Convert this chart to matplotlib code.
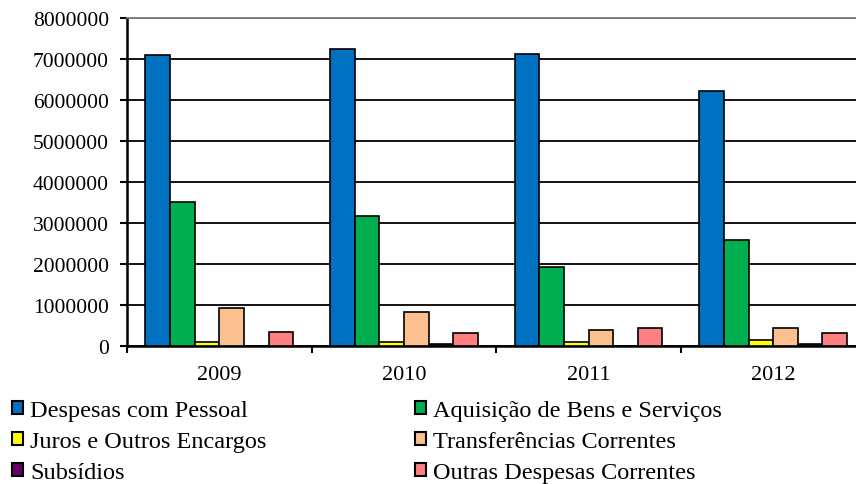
import matplotlib
matplotlib.use("Agg")
import matplotlib.pyplot as plt
import numpy as np
from matplotlib.patches import Patch

years = ["2009", "2010", "2011", "2012"]
series_names = ["Despesas com Pessoal", "Aquisição de Bens e Serviços",
                "Juros e Outros Encargos", "Transferências Correntes",
                "Subsídios", "Outras Despesas Correntes"]
despesas_pessoal = [7100000, 7250000, 7110000, 6220000]
aquisicao_bens = [3510000, 3170000, 1920000, 2580000]
juros_encargos = [90000, 90000, 90000, 140000]
transferencias = [920000, 820000, 385000, 430000]
subsidios = [0, 30000, 0, 30000]
outras_despesas = [340000, 300000, 430000, 300000]
yticks = [0, 1000000, 2000000, 3000000, 4000000, 5000000, 6000000, 7000000, 8000000]

colors = ["#0070C0", "#00B050", "#FFFF00", "#FAC090", "#660066", "#FF8080"]
data = [despesas_pessoal, aquisicao_bens, juros_encargos, transferencias, subsidios, outras_despesas]

plt.rcParams['font.family'] = ['Liberation Serif', 'DejaVu Serif']

fig = plt.figure(figsize=(8.56, 4.85), dpi=100)
ax = fig.add_axes([127/856, (485-346.5)/485, 738.5/856, 327.5/485])

n = len(data)
bw = 0.8 / n
x = np.arange(len(years))
for i, (vals, c) in enumerate(zip(data, colors)):
    ax.bar(x - 0.4 + bw*(i+0.5), vals, width=bw, color=c, edgecolor="black",
           linewidth=1.2, zorder=3)

ax.set_xlim(-0.5, len(years) - 0.5)
ax.set_ylim(0, 8000000)
ax.set_yticks(yticks)
ax.set_yticklabels([str(v) for v in yticks], fontsize=15.5)
ax.yaxis.grid(True, color="black", linewidth=1.3, zorder=0)
ax.set_axisbelow(True)

ax.set_xticks(np.arange(len(years) + 1) - 0.5, minor=False)
ax.set_xticklabels([])
ax.set_xticks(x, minor=True)
ax.set_xticklabels(years, minor=True, fontsize=16)
ax.tick_params(axis='x', which='minor', length=0, pad=14)
ax.tick_params(axis='x', which='major', length=5, width=1.5, direction='out')
ax.tick_params(axis='y', length=5, width=1.5, direction='out', pad=8)

for s in ["left", "bottom"]:
    ax.spines[s].set_linewidth(1.8)
    ax.spines[s].set_color("black")
ax.spines["right"].set_visible(False)
ax.spines["top"].set_color("#808080")
ax.spines["top"].set_linewidth(1.3)

handles = [Patch(facecolor=c, edgecolor="black", linewidth=1.5) for c in colors]
order = [0, 2, 4, 1, 3, 5]
fig.legend([handles[i] for i in order], [series_names[i] for i in order],
           loc="upper left", bbox_to_anchor=(0.008, 1 - 396/485), ncol=2,
           frameon=False, fontsize=17.5, handlelength=0.45, handleheight=0.45,
           handletextpad=0.3, columnspacing=6.12, labelspacing=0.42,
           borderaxespad=0, borderpad=0.2)

fig.savefig("out.png", dpi=100)
